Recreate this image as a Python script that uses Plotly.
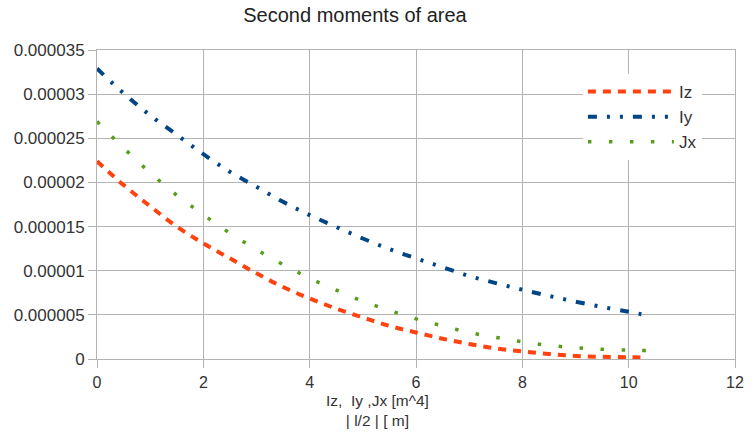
import plotly.graph_objects as go

x_half_len = [0, 0.5, 1, 1.5, 2, 2.5, 3, 3.5, 4, 4.5, 5, 5.5, 6, 6.5, 7, 7.5, 8, 8.5, 9, 9.5, 10, 10.35]
iz = [22.4, 19.7, 17.3, 15.0, 13.1, 11.4, 9.7, 8.15, 6.85, 5.7, 4.7, 3.75, 3.0, 2.3, 1.7, 1.2, 0.85, 0.57, 0.35, 0.25, 0.2, 0.15]
iy = [32.9, 30.1, 27.6, 25.4, 23.2, 21.2, 19.5, 17.8, 16.3, 14.95, 13.65, 12.45, 11.4, 10.4, 9.4, 8.6, 7.85, 7.15, 6.5, 5.9, 5.35, 4.95]
jx = [26.9, 23.9, 21.1, 18.55, 16.35, 14.25, 12.4, 10.7, 9.15, 7.8, 6.55, 5.5, 4.55, 3.75, 3.0, 2.45, 1.95, 1.55, 1.27, 1.1, 1.0, 0.97]
scale = 1e-6

y_tick_vals = [0, 0.000005, 0.00001, 0.000015, 0.00002, 0.000025, 0.00003, 0.000035]
y_tick_text = ["0", "0.000005", "0.00001", "0.000015", "0.00002", "0.000025", "0.00003", "0.000035"]
x_tick_vals = [0, 2, 4, 6, 8, 10, 12]

FONT = "Liberation Sans, Arial, sans-serif"
GRID = "#b3b3b3"
TXT = "#333333"

# plot area in pixels
L, R, T, B = 97, 13, 50, 73
W, H = 756, 432
PW, PH = W - L - R, H - T - B


def px_to_py(py):
    return (H - B - py) / PH


def px_to_px(px):
    return (px - L) / PW


fig = go.Figure()
fig.add_trace(go.Scatter(x=x_half_len, y=[v * scale for v in iz], name="Iz", mode="lines",
                         line=dict(color="#ff420e", width=4, dash="8px,7px", shape="spline")))
fig.add_trace(go.Scatter(x=x_half_len, y=[v * scale for v in iy], name="Iy", mode="lines",
                         line=dict(color="#004586", width=4,
                                   dash="9px,10px,3px,10px,3px,10px", shape="spline")))
fig.add_trace(go.Scatter(x=x_half_len, y=[v * scale for v in jx], name="Jx", mode="lines",
                         line=dict(color="#579d1c", width=3.5, dash="3.5px,17.5px", shape="spline")))

fig.update_layout(
    width=W, height=H,
    margin=dict(l=L, r=R, t=T, b=B),
    paper_bgcolor="white", plot_bgcolor="white",
    font=dict(family=FONT, color=TXT),
    title=dict(text="Second moments of area", x=355 / W, xref="container", xanchor="center",
               y=1 - 14.5 / H, yref="container", yanchor="middle",
               font=dict(size=20, color="#222222", family=FONT)),
    showlegend=True,
    legend=dict(x=px_to_px(589), y=px_to_py(74), xanchor="left", yanchor="top", bgcolor="white",
                font=dict(size=17, color=TXT, family=FONT), itemwidth=86,
                tracegroupgap=0),
    xaxis=dict(range=[0, 12], tickvals=x_tick_vals, showgrid=True, gridcolor=GRID, gridwidth=1,
               zeroline=False, showline=True, linecolor=GRID, mirror=True,
               ticks="outside", ticklen=8, tickcolor=GRID, ticklabelstandoff=1,
               tickfont=dict(size=16, color=TXT, family=FONT)),
    yaxis=dict(range=[0, 0.000035], tickvals=y_tick_vals, ticktext=y_tick_text, showgrid=True,
               gridcolor=GRID, gridwidth=1, zeroline=False, showline=True, linecolor=GRID,
               mirror=True, ticks="outside", ticklen=8, tickcolor=GRID,
               tickfont=dict(size=17, color=TXT, family=FONT)),
    annotations=[
        dict(text="Iz,  Iy ,Jx [m^4]<br>| l/2 | [ m]", xref="paper", yref="paper",
             x=px_to_px(381), y=px_to_py(410), xanchor="center", yanchor="middle",
             showarrow=False, font=dict(size=15.5, color=TXT, family=FONT)),
    ],
)

fig.write_html("out.html")
